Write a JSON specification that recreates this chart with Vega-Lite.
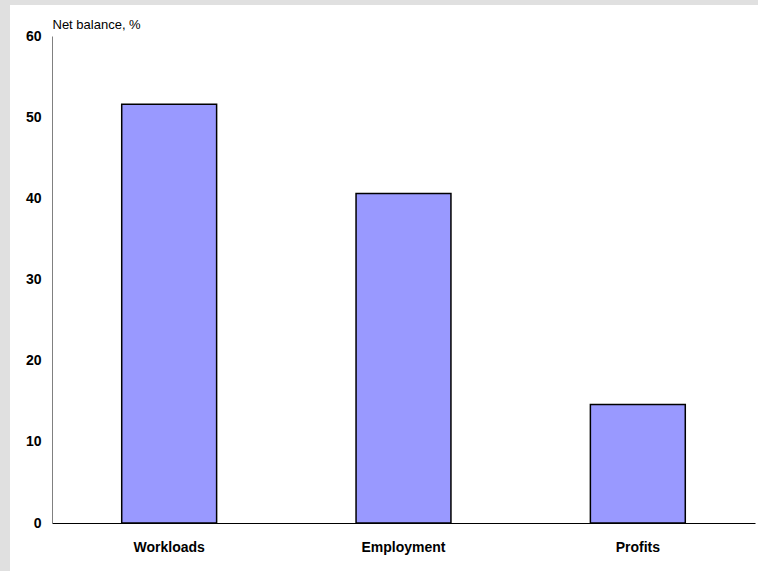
{
  "$schema": "https://vega.github.io/schema/vega-lite/v6.json",
  "autosize": "none",
  "width": 748,
  "height": 566,
  "padding": {"left": 10, "top": 5, "right": 0, "bottom": 0},
  "background": "#e0e0e0",
  "config": {
    "view": {"fill": "white", "stroke": null},
    "font": "Liberation Sans"
  },
  "data": {
    "values": [
      {"category": "Workloads", "value": 51.6},
      {"category": "Employment", "value": 40.6},
      {"category": "Profits", "value": 14.6}
    ]
  },
  "mark": {"type": "bar", "fill": "#9999ff", "stroke": "black", "strokeWidth": 1.5},
  "encoding": {
    "x": {
      "field": "category",
      "type": "nominal",
      "sort": null,
      "scale": {"range": [42, 745], "paddingInner": 0.595, "paddingOuter": 0.2975},
      "axis": {
        "title": null,
        "labelAngle": 0,
        "labelFont": "Liberation Sans",
        "labelFontSize": 14,
        "labelFontWeight": "bold",
        "labelColor": "black",
        "labelPadding": 17,
        "ticks": false,
        "domainColor": "black",
        "domainWidth": 1,
        "offset": -48
      }
    },
    "y": {
      "field": "value",
      "type": "quantitative",
      "scale": {"domain": [0, 60], "range": [518, 31], "nice": false},
      "axis": {
        "values": [0, 10, 20, 30, 40, 50, 60],
        "grid": false,
        "ticks": false,
        "labelFont": "Liberation Sans",
        "labelFontSize": 14,
        "labelFontWeight": "bold",
        "labelColor": "black",
        "labelPadding": 11,
        "domainColor": "#808080",
        "domainWidth": 1,
        "offset": -42,
        "title": "Net balance, %",
        "titleAngle": 0,
        "titleAlign": "left",
        "titleBaseline": "alphabetic",
        "titleX": 0,
        "titleY": 23,
        "titleFont": "Liberation Sans",
        "titleFontSize": 13,
        "titleFontWeight": "normal",
        "titleColor": "black"
      }
    }
  }
}
